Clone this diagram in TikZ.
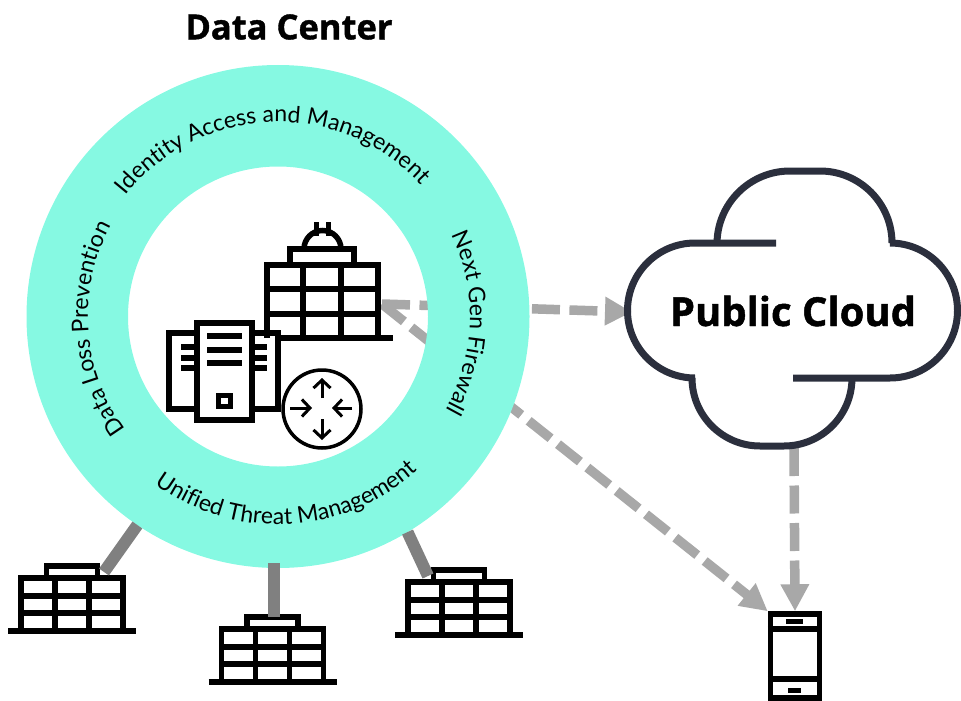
\documentclass[tikz,border=0pt]{standalone}
\usepackage{fontspec}
\setmainfont{Lato}
\newfontfamily\titlefont[BoldFeatures={FakeBold=1.2}]{Open Sans}
\usetikzlibrary{arrows.meta,decorations.text}
\definecolor{ringcol}{HTML}{86F9E2}
\definecolor{linkcol}{HTML}{A8A8A8}
\definecolor{stemcol}{HTML}{808080}
\definecolor{cloudcol}{HTML}{2B2F3D}
\newcommand{\ringfont}{\fontsize{23}{23}\selectfont}
\tikzset{
	link/.style={linkcol,line width=9.5pt,dash pattern=on 28pt off 9.5pt},
	linktip/.style={-{Triangle[length=27pt,width=27pt]}},
	stem/.style={stemcol,line width=12pt},
	icon/.style={black,line width=5.5pt,line cap=butt,line join=miter},
	cloudline/.style={cloudcol,line width=7pt},
	ringtext/.style={decorate,decoration={text along path,text align=center,text={|\ringfont|#1}}},
	annex/.pic={
		\draw[icon] (-64,0) -- (64,0);
		\draw[icon] (-51,0) -- (-51,53) -- (51,53) -- (51,0);
		\draw[icon] (-25.5,53) -- (-25.5,65) -- (25.5,65) -- (25.5,53);
		\foreach \gx in {-17,17} \draw[icon] (\gx,0) -- (\gx,53);
		\foreach \gy in {18,35} \draw[icon] (-51,\gy) -- (51,\gy);
		\coordinate (-top) at (0,65);
		\coordinate (-capeast) at (32,59);
		\coordinate (-capwest) at (-31,59);
	}
}
\begin{document}
\begin{tikzpicture}[x=1pt,y=1pt]
	\useasboundingbox (0,0) rectangle (961,-701);
	\node [circle,minimum size=503pt,inner sep=0pt,outer sep=0pt] (ring) at (278,-316.5) {};
	\node [draw,icon,minimum width=49pt,minimum height=84pt,inner sep=0pt,outer sep=2.75pt] (phone) at (795,-656) {};
	% links pass under the ring
	\coordinate (hub) at (382,-304);
	\coordinate (cloudwest) at (632,-312);
	\coordinate (cloudsouth) at (794,-448);
	\draw [link,linktip] (hub) -- (cloudwest);
	\draw [link,linktip] (hub) -- (phone.north west);
	\draw [link,linktip] (cloudsouth) -- (phone.north);
	\fill [ringcol,even odd rule] (ring.center) circle[radius=251.5] (ring.center) circle[radius=150];
	\path [ringtext={Identity Access and Management}] (ring.center) ++(152:194.5) arc[start angle=152,end angle=32,radius=194.5];
	\path [ringtext={Next Gen Firewall}] (ring.center) ++(38:192) arc[start angle=38,end angle=-42,radius=192];
	\path [ringtext={Unified Threat Management}] (ring.center) ++(-137:208) arc[start angle=-137,end angle=-37,radius=208];
	\path [ringtext={Data Loss Prevention}] (ring.center) ++(229:190) arc[start angle=229,end angle=139,radius=190];
	\node [font=\titlefont\bfseries\fontsize{34.5}{34.5}\selectfont] (title) at (289,-27) {Data Center};
	% branch sites
	\pic (east) at (459,-635) {annex};
	\pic (south) at (272.7,-682) {annex};
	\pic (west) at (72,-631) {annex};
	\coordinate (southfoot) at (274,-563);
	\draw [stem] (ring.236) -- (west-capeast);
	\draw [stem] (southfoot) -- (southfoot |- south-top);
	\draw [stem] (ring.301) -- (east-capwest);
	% main building
	\draw [icon] (275,-338) -- (393,-338);
	\draw [icon] (267,-338) -- (267,-265) -- (378,-265) -- (378,-338);
	\foreach \gx in {303,341} \draw [icon] (\gx,-265) -- (\gx,-338);
	\foreach \gy in {289,314} \draw [icon] (267,-\gy) -- (378,-\gy);
	\draw [icon] (290,-265) -- (290,-249) -- (354,-249) -- (354,-265);
	\draw [icon] (304,-249) arc[start angle=180,end angle=0,radius=18.5];
	\foreach \gx in {316.5,328.5} \draw [icon] (\gx,-236) -- (\gx,-222);
	% servers
	\draw [icon] (197,-333) -- (169,-333) -- (169,-409) -- (197,-409);
	\draw [icon] (252,-333) -- (278,-333) -- (278,-409) -- (252,-409);
	\draw [icon] (197,-323) rectangle (252,-420);
	\foreach \gy in {336,350,363} \draw [icon,line width=6pt] (207,-\gy) -- (242,-\gy);
	\foreach \gy in {347,358,368} {
		\draw [icon] (181,-\gy) -- (195,-\gy);
		\draw [icon] (254,-\gy) -- (267,-\gy);
	}
	\draw [icon] (218.5,-395.5) rectangle (230.5,-406.5);
	% router
	\node [circle,draw=black,fill=white,line width=3.5pt,minimum size=78pt,inner sep=0pt] (router) at (322,-409) {};
	\foreach \tx/\ty/\hx/\hy in {322/398/322/378, 322/419/322/440, 290/408/312/408, 352/408/332/408}
		\draw [black,line width=3pt,-{Straight Barb[length=8pt,width=17pt]}] (\tx,-\ty) -- (\hx,-\hy);
	% public cloud
	\draw [cloudline] (776,-243) -- (695,-243) arc[start angle=90,end angle=270,radius=67.5] -- (692,-378)
		arc[start angle=180,end angle=270,radius=68] -- (784,-446) arc[start angle=270,end angle=360,radius=68] -- (852,-378);
	\draw [cloudline] (793,-378) -- (890,-378) arc[start angle=-90,end angle=90,radius=67.5] -- (892,-243)
		arc[start angle=0,end angle=90,radius=72] -- (790,-171) arc[start angle=90,end angle=180,radius=73];
	\node [font=\titlefont\bfseries\fontsize{40}{40}\selectfont] (cloud) at (793,-311) {Public Cloud};
	% phone
	\draw [icon] (phone.west |- 0,-629) -- (phone.east |- 0,-629);
	\draw [icon] (phone.west |- 0,-679) -- (phone.east |- 0,-679);
	\fill (786,-619) rectangle (803,-624);
	\fill (788,-688) rectangle (801,-693);
\end{tikzpicture}
\end{document}
